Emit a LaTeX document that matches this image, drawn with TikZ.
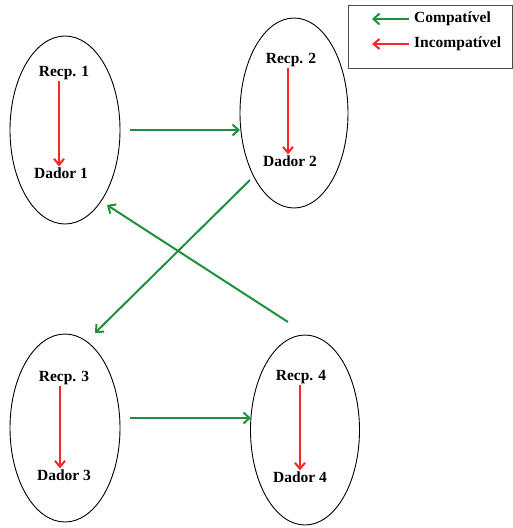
\documentclass[tikz,border=0pt]{standalone}
\usepackage{fontspec}
\setmainfont{Liberation Serif}
\usetikzlibrary{arrows.meta,shapes.geometric}
\begin{document}
\begin{tikzpicture}[x=1pt,y=-1pt,
  oval/.style={draw=black,line width=0.9pt,ellipse,inner sep=0},
  lbl/.style={font=\bfseries\fontsize{15.5}{17}\selectfont,inner sep=1pt},
  comp/.style={draw={rgb,255:red,30;green,145;blue,60},line width=2pt,-{Straight Barb[length=6pt,width=11pt,line width=2pt]}},
  incomp/.style={draw={rgb,255:red,245;green,40;blue,40},line width=2pt,-{Straight Barb[length=6pt,width=10pt,line width=2pt]}}]
\useasboundingbox (0,0) rectangle (513,528);
% ellipses
\node[oval,minimum width=110pt,minimum height=188pt] (e1) at (65,130) {};
\node[oval,minimum width=108pt,minimum height=190pt] (e2) at (294,113) {};
\node[oval,minimum width=110pt,minimum height=188pt] (e3) at (65,428) {};
\node[oval,minimum width=109pt,minimum height=190pt] (e4) at (305,430) {};
% labels
\node[lbl] (r1) at (64,73) {Recp. 1};
\node[lbl] (d1) at (61,173) {Dador 1};
\node[lbl] (r2) at (291,60) {Recp. 2};
\node[lbl] (d2) at (290,161) {Dador 2};
\node[lbl] (r3) at (64,378) {Recp. 3};
\node[lbl] (d3) at (64,475) {Dador 3};
\node[lbl] (r4) at (301,377) {Recp. 4};
\node[lbl] (d4) at (300,477) {Dador 4};
% red arrows
\draw[incomp] (r1.south -| 59,0) -- (d1.north -| 59,0);
\draw[incomp] (r2.south -| 288,0) -- (d2.north -| 288,0);
\draw[incomp] (r3.south -| 60,0) -- (d3.north -| 60,0);
\draw[incomp] (r4.south -| 300,0) -- (d4.north -| 300,0);
% green arrows
\coordinate (a1s) at (130,130);
\coordinate (a1e) at (240,130);
\coordinate (a2s) at (250,180);
\coordinate (a2e) at (95,333);
\coordinate (a3s) at (288,322);
\coordinate (a3e) at (107,205);
\coordinate (a4s) at (130,418);
\coordinate (a4e) at (251,418);
\draw[comp] (a1s) -- (a1e);
\draw[comp] (a2s) -- (a2e);
\draw[comp] (a3s) -- (a3e);
\draw[comp] (a4s) -- (a4e);
% legend
\node[draw=black!70,line width=1pt,minimum width=164pt,minimum height=63pt,inner sep=0] (leg) at (430,36.5) {};
\node[lbl,anchor=west] (lc) at (413,19) {Compatível};
\node[lbl,anchor=west] (li) at (413,44) {Incompatível};
\coordinate (lcs) at (409,19);
\coordinate (lce) at (372,19);
\coordinate (lis) at (409,44);
\coordinate (lie) at (372,44);
\draw[comp] (lcs) -- (lce);
\draw[incomp] (lis) -- (lie);
\end{tikzpicture}
\end{document}
